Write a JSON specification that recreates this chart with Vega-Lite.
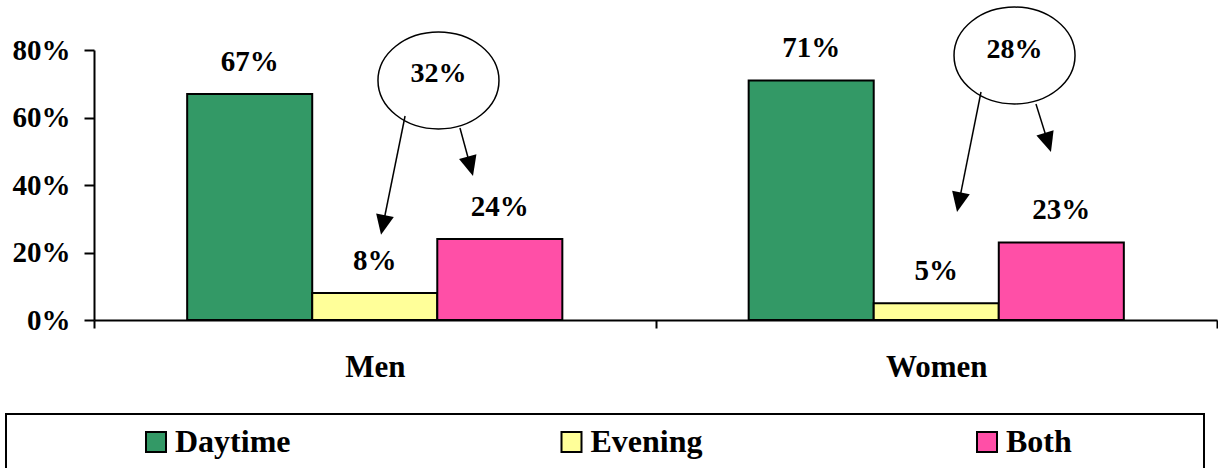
{
  "$schema": "https://vega.github.io/schema/vega-lite/v6.json",
  "autosize": {"type": "pad"},
  "padding": {"left": 5, "top": 4, "right": 0, "bottom": 0},
  "background": "white",
  "config": {
    "font": "Liberation Serif",
    "view": {"stroke": null},
    "axis": {"grid": false}
  },
  "datasets": {
    "usage": [
      {"group": "Men", "time": "Daytime", "value": 0.67},
      {"group": "Men", "time": "Evening", "value": 0.08},
      {"group": "Men", "time": "Both", "value": 0.24},
      {"group": "Women", "time": "Daytime", "value": 0.71},
      {"group": "Women", "time": "Evening", "value": 0.05},
      {"group": "Women", "time": "Both", "value": 0.23}
    ],
    "callouts": [
      {"group": "Men", "cx": 0.6135, "cy": 0.7096, "ty": 0.7043, "label": "32%"},
      {"group": "Women", "cx": 1.6394, "cy": 0.7837, "ty": 0.7754, "label": "28%"}
    ],
    "arrows": [
      {"group": "Men", "target": "Evening", "from_x": 0.554, "from_y": 0.6044, "head_x": 0.5147, "head_y": 0.2815, "angle": 11.4},
      {"group": "Men", "target": "Both", "from_x": 0.6518, "from_y": 0.5689, "head_x": 0.6703, "head_y": 0.4554, "angle": -15.2},
      {"group": "Women", "target": "Evening", "from_x": 1.5797, "from_y": 0.6756, "head_x": 1.5405, "head_y": 0.349, "angle": 11.3},
      {"group": "Women", "target": "Both", "from_x": 1.6776, "from_y": 0.64, "head_x": 1.699, "head_y": 0.526, "angle": -17.3}
    ]
  },
  "spacing": 31,
  "resolve": {"scale": {"x": "independent", "color": "independent"}},
  "vconcat": [
    {
      "width": 1211,
      "height": 270,
      "layer": [
        {
          "data": {"name": "usage"},
          "encoding": {
            "x": {
              "field": "group", "type": "nominal", "sort": ["Men", "Women"],
              "scale": {"range": [88, 1211], "paddingInner": 0, "paddingOuter": 0},
              "axis": {
                "title": null, "labelAngle": 0,
                "domainColor": "black", "domainWidth": 2,
                "tickColor": "black", "tickWidth": 2, "tickSize": 8, "tickBand": "extent",
                "labelFont": "Liberation Serif", "labelFontSize": 31, "labelFontWeight": "bold",
                "labelColor": "black", "labelPadding": 24, "labelBaseline": "top"
              }
            },
            "xOffset": {
              "field": "time", "type": "nominal", "sort": ["Daytime", "Evening", "Both"],
              "scale": {"paddingInner": 0, "paddingOuter": 0.745}
            },
            "y": {
              "field": "value", "type": "quantitative",
              "scale": {"domain": [0, 0.8]},
              "axis": {
                "title": null, "offset": -88, "values": [0, 0.2, 0.4, 0.6, 0.8], "format": ".0%",
                "domainColor": "black", "domainWidth": 2,
                "tickColor": "black", "tickWidth": 2, "tickSize": 10,
                "labelFont": "Liberation Serif", "labelFontSize": 29, "labelFontWeight": "bold",
                "labelColor": "black", "labelPadding": 14, "labelBaseline": "middle"
              }
            }
          },
          "layer": [
            {
              "mark": {"type": "bar", "stroke": "black", "strokeWidth": 2},
              "encoding": {
                "color": {
                  "field": "time", "type": "nominal",
                  "scale": {"domain": ["Daytime", "Evening", "Both"], "range": ["#339966", "#FFFF99", "#FF4FA7"]},
                  "legend": null
                }
              }
            },
            {
              "mark": {"type": "text", "dy": -23, "baseline": "alphabetic", "fontSize": 29, "fontWeight": "bold", "color": "black"},
              "encoding": {"text": {"field": "value", "type": "quantitative", "format": ".0%"}}
            }
          ]
        },
        {
          "layer": [
            {
              "data": {"name": "callouts"},
              "mark": {
                "type": "point",
                "shape": "M-1,0A1,0.8,0,1,0,1,0A1,0.8,0,1,0,-1,0Z",
                "size": 14641, "filled": true, "fill": "white", "stroke": "black", "strokeWidth": 1.5, "opacity": 1
              },
              "encoding": {
                "x": {"field": "cx", "type": "quantitative", "scale": {"domain": [0, 2], "range": [88, 1211]}, "axis": null},
                "y": {"field": "cy", "type": "quantitative", "title": null}
              }
            },
            {
              "data": {"name": "callouts"},
              "mark": {"type": "text", "baseline": "alphabetic", "fontSize": 28, "fontWeight": "bold", "color": "black"},
              "encoding": {
                "x": {"field": "cx", "type": "quantitative", "scale": {"domain": [0, 2], "range": [88, 1211]}, "axis": null},
                "y": {"field": "ty", "type": "quantitative", "title": null},
                "text": {"field": "label"}
              }
            },
            {
              "data": {"name": "arrows"},
              "mark": {"type": "rule", "color": "black", "strokeWidth": 1.5},
              "encoding": {
                "x": {"field": "from_x", "type": "quantitative", "scale": {"domain": [0, 2], "range": [88, 1211]}, "axis": null},
                "y": {"field": "from_y", "type": "quantitative", "title": null},
                "x2": {"field": "head_x"},
                "y2": {"field": "head_y"}
              }
            },
            {
              "data": {"name": "arrows"},
              "mark": {
                "type": "point", "shape": "M-0.9,-1L0.9,-1L0,1Z",
                "size": 400, "filled": true, "color": "black", "opacity": 1
              },
              "encoding": {
                "x": {"field": "head_x", "type": "quantitative", "scale": {"domain": [0, 2], "range": [88, 1211]}, "axis": null},
                "y": {"field": "head_y", "type": "quantitative", "title": null},
                "angle": {"field": "angle", "type": "quantitative", "scale": null}
              }
            }
          ]
        }
      ],
      "resolve": {"scale": {"x": "independent"}}
    },
    {
      "width": 1198,
      "height": 56,
      "view": {"stroke": "black", "strokeWidth": 2},
      "data": {"name": "usage"},
      "transform": [{"filter": "datum.group === 'Men'"}],
      "encoding": {
        "x": {
          "field": "time", "type": "nominal", "sort": ["Daytime", "Evening", "Both"],
          "scale": {"type": "point", "range": [150, 981], "padding": 0}, "axis": null
        }
      },
      "layer": [
        {
          "mark": {"type": "point", "shape": "square", "size": 400, "filled": true, "stroke": "black", "strokeWidth": 2, "opacity": 1},
          "encoding": {
            "color": {
              "field": "time", "type": "nominal",
              "scale": {"domain": ["Daytime", "Evening", "Both"], "range": ["#339966", "#FFFF99", "#FF4FA7"]},
              "legend": null
            }
          }
        },
        {
          "mark": {"type": "text", "align": "left", "dx": 19, "dy": 10, "baseline": "alphabetic", "fontSize": 32, "fontWeight": "bold", "color": "black"},
          "encoding": {"text": {"field": "time"}}
        }
      ]
    }
  ]
}
